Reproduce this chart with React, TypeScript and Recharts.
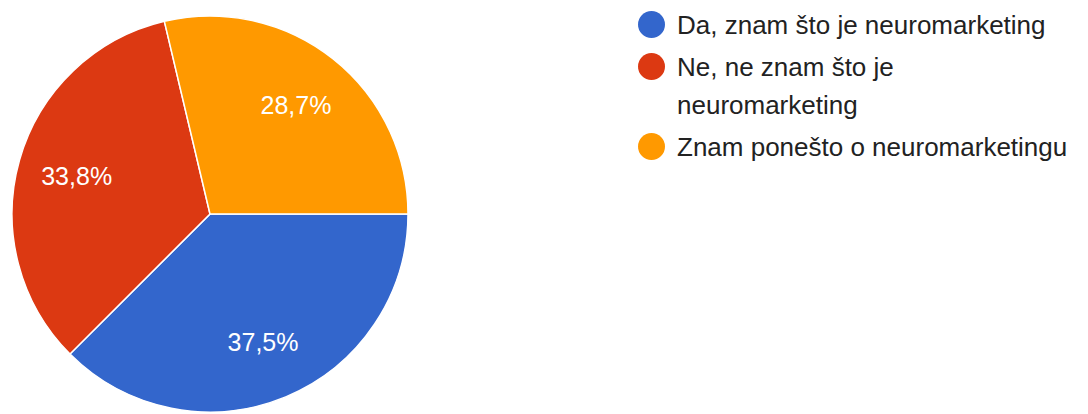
import { PieChart, Pie, Cell, Legend } from "recharts";

const categories = [
  "Da, znam što je neuromarketing",
  "Ne, ne znam što je neuromarketing",
  "Znam ponešto o neuromarketingu",
];
const shares = [37.5, 33.8, 28.7];
const colors = ["#3366cc", "#dc3912", "#ff9900"];

const data = categories.map((name, i) => ({ name, value: shares[i] }));

const RAD = Math.PI / 180;

const renderLabel = (props: any) => {
  const { cx, cy, midAngle, outerRadius, value } = props;
  const r = outerRadius * 0.7;
  const x = cx + r * Math.cos(-midAngle * RAD);
  const y = cy + r * Math.sin(-midAngle * RAD);
  return (
    <text
      x={x}
      y={y}
      fill="#ffffff"
      fontSize={25}
      fontFamily="Arial, 'Liberation Sans', sans-serif"
      textAnchor="middle"
      dominantBaseline="central"
    >
      {value.toFixed(1).replace(".", ",")}%
    </text>
  );
};

const renderLegend = (props: any) => {
  const { payload } = props;
  return (
    <div style={{ fontFamily: "Arial, 'Liberation Sans', sans-serif", fontSize: 26, color: "#222" }}>
      {payload.map((entry: any, idx: number) => (
        <div key={idx} style={{ display: "flex", alignItems: "flex-start", marginBottom: 4 }}>
          <span
            style={{
              width: 27,
              height: 27,
              borderRadius: "50%",
              background: entry.color,
              flexShrink: 0,
              marginTop: 5,
              marginRight: 12,
            }}
          />
          <span style={{ width: 398, lineHeight: "38px" }}>{entry.value}</span>
        </div>
      ))}
    </div>
  );
};

export default function App() {
  return (
    <div style={{ position: "absolute", left: 0, top: 0, background: "#fff" }}>
      <style>{`body{margin:0}`}</style>
      <PieChart width={1088} height={414} margin={{ top: 0, right: 0, bottom: 0, left: 0 }}>
        <Pie
          data={data}
          dataKey="value"
          nameKey="name"
          cx={210}
          cy={214}
          outerRadius={198}
          startAngle={0}
          endAngle={-360}
          stroke="#ffffff"
          strokeWidth={1.5}
          label={renderLabel}
          labelLine={false}
          isAnimationActive={false}
        >
          {data.map((d, i) => (
            <Cell key={d.name} fill={colors[i]} />
          ))}
        </Pie>
        <Legend
          layout="vertical"
          verticalAlign="top"
          align="right"
          content={renderLegend}
          wrapperStyle={{ left: 638, top: 6, right: "auto", width: 450 }}
        />
      </PieChart>
    </div>
  );
}
